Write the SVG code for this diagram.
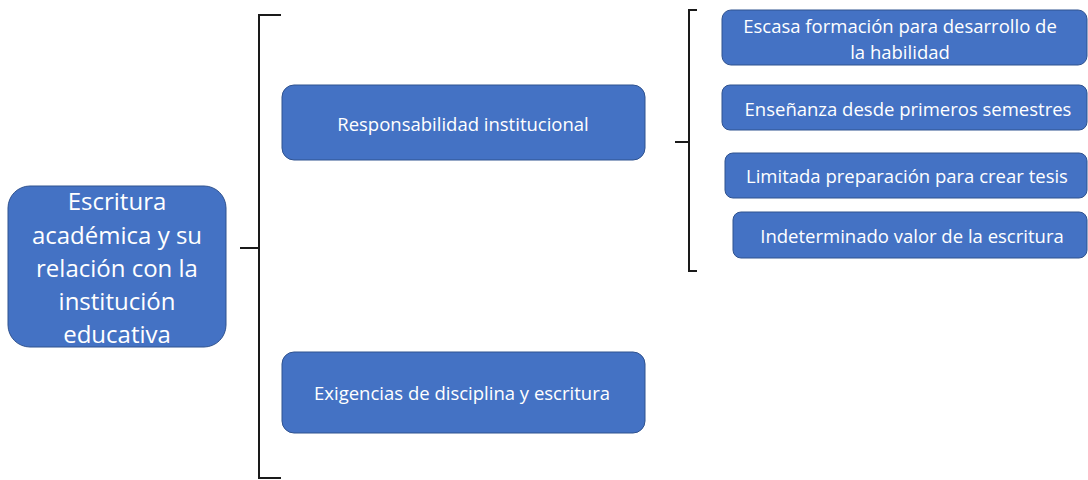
<svg xmlns="http://www.w3.org/2000/svg" width="1088" height="480" viewBox="0 0 1088 480">
<style>
.box{fill:#4472C4;stroke:#2F528F;stroke-width:1}
.t{fill:#FFFFFF;font-family:"Open Sans","Liberation Sans",sans-serif;text-anchor:middle;dominant-baseline:central}
.s{font-size:18.5px}
.big{font-size:24px}
.br{fill:none;stroke:#1a1a1a;stroke-width:2}
</style>
<rect width="1088" height="480" fill="#FFFFFF"/>
<g id="connectors">
<path class="br" d="M281,15 L259,15 L259,478 L281,478 M240,248 L259,248"/>
<path class="br" d="M697,10 L689,10 L689,271 L697,271 M675,142 L689,142"/>
</g>
<g id="n-main">
<rect class="box" x="8" y="186" width="218" height="161" rx="22"/>
<text class="t big" x="117" y="200">Escritura</text>
<text class="t big" x="117" y="234">académica y su</text>
<text class="t big" x="117" y="267">relación con la</text>
<text class="t big" x="117" y="300">institución</text>
<text class="t big" x="117" y="333">educativa</text>
</g>
<g id="n-resp">
<rect class="box" x="282" y="85" width="363" height="75" rx="12"/>
<text class="t s" x="463" y="123">Responsabilidad institucional</text>
</g>
<g id="n-exig">
<rect class="box" x="282" y="352" width="363" height="81" rx="12"/>
<text class="t s" x="462" y="392">Exigencias de disciplina y escritura</text>
</g>
<g id="n-escasa">
<rect class="box" x="722" y="10" width="365" height="55" rx="9"/>
<text class="t s" x="900" y="25">Escasa formación para desarrollo de</text>
<text class="t s" x="900" y="51">la habilidad</text>
</g>
<g id="n-ensenanza">
<rect class="box" x="722" y="85" width="365" height="45" rx="8"/>
<text class="t s" x="908" y="108">Enseñanza desde primeros semestres</text>
</g>
<g id="n-limitada">
<rect class="box" x="725" y="153" width="362" height="45" rx="8"/>
<text class="t s" x="907" y="175">Limitada preparación para crear tesis</text>
</g>
<g id="n-indet">
<rect class="box" x="733" y="212" width="354" height="46" rx="8"/>
<text class="t s" x="912" y="235">Indeterminado valor de la escritura</text>
</g>
</svg>
